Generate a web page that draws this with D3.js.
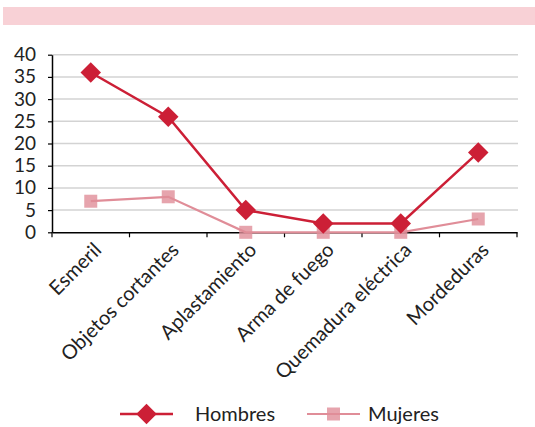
<!DOCTYPE html>
<html>
<head>
<meta charset="utf-8">
<script src="https://cdn.jsdelivr.net/npm/d3@7"></script>
<style>
  html, body { margin: 0; padding: 0; background: #fff; }
  svg { display: block; }
  text { font-family: Lato, "Open Sans", sans-serif; fill: #222; }
</style>
</head>
<body>
<svg id="chart" width="535" height="427"></svg>
<script>
// Injury causes, split by sex
const categories = ["Esmeril", "Objetos cortantes", "Aplastamiento", "Arma de fuego", "Quemadura eléctrica", "Mordeduras"];
const hombres = [36, 26, 5, 2, 2, 18];
const mujeres = [7, 8, 0, 0, 0, 3];
const yTicks = [0, 5, 10, 15, 20, 25, 30, 35, 40];
const seriesNames = ["Hombres", "Mujeres"];

const colorH = "#cc1f36";
const colorM = "#e08d98";

const svg = d3.select("#chart");

// header band
svg.append("rect")
  .attr("x", 3).attr("y", 7).attr("width", 532).attr("height", 18)
  .attr("fill", "#f8d1d6");

const x = d3.scaleBand().domain(categories).range([52, 517]).padding(0);
const y = d3.scaleLinear().domain([0, 40]).range([232.3, 54.7]);
const cx = c => x(c) + x.bandwidth() / 2;

// gridlines
svg.append("g")
  .selectAll("line")
  .data(yTicks.filter(d => d > 0))
  .join("line")
  .attr("x1", 52).attr("x2", 518)
  .attr("y1", d => y(d)).attr("y2", d => y(d))
  .attr("stroke", "#d3d3d3").attr("stroke-width", 1.5);

// y axis
const yAxis = svg.append("g")
  .attr("transform", "translate(52,0)")
  .call(d3.axisLeft(y).tickValues(yTicks).tickSize(4).tickPadding(12).tickSizeOuter(0));
yAxis.select(".domain").attr("stroke", "#000").attr("stroke-width", 1.5);
yAxis.selectAll(".tick line").attr("stroke", "#000").attr("stroke-width", 1.2);
yAxis.selectAll("text").attr("font-size", 19).attr("fill", "#222").attr("font-family", "Lato, 'Open Sans', sans-serif");

// x axis
const xAxis = svg.append("g")
  .attr("transform", `translate(0,${y(0)})`)
  .call(d3.axisBottom(x).tickSize(0).tickFormat(""));
xAxis.select(".domain").attr("stroke", "#000").attr("stroke-width", 1.5);

// band boundary ticks
svg.append("g")
  .selectAll("line")
  .data(categories.map(c => x(c)).concat([x.range()[1]]))
  .join("line")
  .attr("x1", d => d).attr("x2", d => d)
  .attr("y1", y(0)).attr("y2", y(0) + 5)
  .attr("stroke", "#000").attr("stroke-width", 1.2);

// category labels
svg.append("g")
  .selectAll("text")
  .data(categories)
  .join("text")
  .attr("transform", d => `translate(${cx(d) + 7},${y(0) + 14}) rotate(-45)`)
  .attr("text-anchor", "end")
  .attr("dy", "0.35em")
  .attr("font-size", 20)
  .text(d => d);

const line = d3.line().x((d, i) => cx(categories[i])).y(d => y(d));

// Hombres
svg.append("path")
  .datum(hombres)
  .attr("d", line)
  .attr("fill", "none").attr("stroke", colorH).attr("stroke-width", 2.5);

// Mujeres
svg.append("path")
  .datum(mujeres)
  .attr("d", line)
  .attr("fill", "none").attr("stroke", colorM).attr("stroke-width", 2.2);

svg.append("g")
  .selectAll("rect")
  .data(mujeres)
  .join("rect")
  .attr("x", (d, i) => cx(categories[i]) - 6.5)
  .attr("y", d => y(d) - 6.5)
  .attr("width", 13).attr("height", 13)
  .attr("fill", colorM).attr("fill-opacity", 0.8);

const diamond = d3.symbol().type(d3.symbolSquare).size(210);
svg.append("g")
  .selectAll("path")
  .data(hombres)
  .join("path")
  .attr("d", diamond)
  .attr("transform", (d, i) => `translate(${cx(categories[i])},${y(d)}) rotate(45)`)
  .attr("fill", colorH);

// legend
const legend = svg.append("g");
const ly = 414;
legend.append("line").attr("x1", 120).attr("x2", 173).attr("y1", ly).attr("y2", ly)
  .attr("stroke", colorH).attr("stroke-width", 2.5);
legend.append("path").attr("d", diamond)
  .attr("transform", `translate(146.5,${ly}) rotate(45)`).attr("fill", colorH);
legend.append("text").attr("x", 195).attr("y", ly).attr("dy", "0.35em")
  .attr("font-size", 20).text(seriesNames[0]);

legend.append("line").attr("x1", 307).attr("x2", 360).attr("y1", ly).attr("y2", ly)
  .attr("stroke", colorM).attr("stroke-width", 2.2);
legend.append("rect").attr("x", 333.5 - 6.5).attr("y", ly - 6.5).attr("width", 13).attr("height", 13)
  .attr("fill", colorM).attr("fill-opacity", 0.8);
legend.append("text").attr("x", 368).attr("y", ly).attr("dy", "0.35em")
  .attr("font-size", 20).text(seriesNames[1]);
</script>
</body>
</html>
